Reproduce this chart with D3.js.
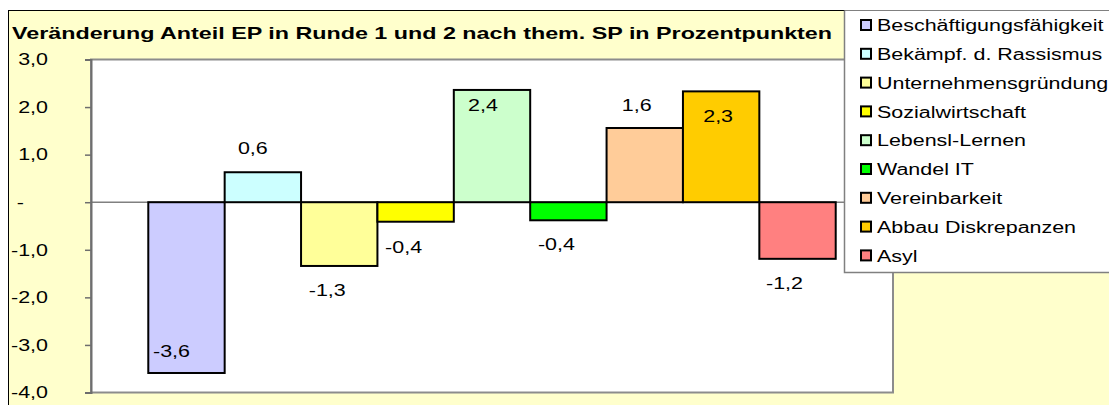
<!doctype html>
<html lang="de">
<head>
    <meta charset="utf-8">
    <title>Veränderung Anteil EP</title>
    <script src="https://cdn.jsdelivr.net/npm/d3@7/dist/d3.min.js"></script>
    <style>
        body { margin: 0; background: #fff; }
        svg text { font-family: "Liberation Sans", Arial, sans-serif; fill: #000; }
    </style>
</head>
<body>
<svg id="chart" width="1109" height="405"></svg>
<script>
    // Daten
    var categories = ["Beschäftigungsfähigkeit", "Bekämpf. d. Rassismus", "Unternehmensgründung",
        "Sozialwirtschaft", "Lebensl-Lernen", "Wandel IT", "Vereinbarkeit", "Abbau Diskrepanzen", "Asyl"];
    var values = [-3.59, 0.63, -1.34, -0.41, 2.36, -0.38, 1.56, 2.33, -1.19];
    var colors = ["#CCCCFF", "#CCFFFF", "#FFFF99", "#FFFF00", "#CCFFCC", "#00FF00", "#FFCC99", "#FFCC00", "#FF8080"];
    var yTicks = [3, 2, 1, 0, -1, -2, -3, -4];
    var title = "Veränderung Anteil EP in Runde 1 und 2 nach them. SP in Prozentpunkten";

    // Lage der Datenbeschriftungen (Excel hat sie von Hand verschoben): [dx, dy] zum Balkenende
    var labelOffsets = [[-15, -16], [-10, -18], [-12, 30], [-12, 31], [-9, 21], [-12, 30], [-8, -17], [-3, 31], [-13, 30]];

    // das Original ist in der Breite gestreckt, die Schrift also auch
    var stretch = function (sel, k) {
        sel.each(function () {
            var w = this.getComputedTextLength();
            d3.select(this).attr("textLength", w * k).attr("lengthAdjust", "spacingAndGlyphs");
        });
    };

    var svg = d3.select("#chart");
    var plot = { left: 91, right: 893, top: 59.5, bottom: 392.5 };

    // Diagrammfläche
    svg.append("rect")
        .attr("x", 8.5).attr("y", 10.5)
        .attr("width", 1120).attr("height", 420)
        .attr("fill", "#FFFFCC").attr("stroke", "#000").attr("stroke-width", 1);

    svg.append("text")
        .attr("x", 12).attr("y", 38.5)
        .style("font-weight", "bold").style("font-size", "17px")
        .text(title)
        .call(stretch, 1.37);

    var fmt = function (v) {
        if (v === 0) return "-";
        return d3.format(".1f")(v).replace(".", ",").replace("\u2212", "-");
    };

    var x = d3.scaleBand().domain(categories).range([plot.left, plot.right]).paddingInner(0).paddingOuter(0.75);
    var y = d3.scaleLinear().domain([-4, 3]).range([plot.bottom, plot.top]);

    // Zeichnungsfläche
    svg.append("rect")
        .attr("x", plot.left).attr("y", plot.top)
        .attr("width", plot.right - plot.left).attr("height", plot.bottom - plot.top)
        .attr("fill", "#fff").attr("stroke", "#8c8c8c").attr("stroke-width", 2);

    // Nulllinie
    svg.append("line")
        .attr("x1", plot.left).attr("x2", plot.right)
        .attr("y1", y(0)).attr("y2", y(0))
        .attr("stroke", "#808080").attr("stroke-width", 1.5);

    var yAxis = svg.append("g")
        .attr("transform", "translate(" + plot.left + ",0)")
        .call(d3.axisLeft(y).tickValues(yTicks).tickSize(6).tickPadding(37).tickFormat(fmt));
    yAxis.select(".domain").attr("stroke", "#6e6e6e").attr("stroke-width", 2);
    yAxis.selectAll(".tick line").attr("stroke", "#6e6e6e").attr("stroke-width", 1.5);
    yAxis.selectAll(".tick text")
        .style("font-size", "16.5px")
        .attr("dx", function (d) { return d === 0 ? -24 : 0; })
        .call(stretch, 1.3);

    // Balken
    svg.append("g").selectAll("rect")
        .data(values)
        .join("rect")
        .attr("x", function (d, i) { return x(categories[i]); })
        .attr("width", x.bandwidth())
        .attr("y", function (d) { return Math.min(y(d), y(0)); })
        .attr("height", function (d) { return Math.abs(y(d) - y(0)); })
        .attr("fill", function (d, i) { return colors[i]; })
        .attr("stroke", "#000").attr("stroke-width", 2);

    svg.append("g").selectAll("text")
        .data(values)
        .join("text")
        .attr("text-anchor", "middle")
        .style("font-size", "16.5px")
        .attr("x", function (d, i) { return x(categories[i]) + x.bandwidth() / 2 + labelOffsets[i][0]; })
        .attr("y", function (d, i) { return y(d) + labelOffsets[i][1]; })
        .text(fmt)
        .call(stretch, 1.3);

    // Legende
    var legend = svg.append("g");
    legend.append("rect")
        .attr("x", 844.5).attr("y", 10.5)
        .attr("width", 280).attr("height", 262)
        .attr("fill", "#fff");
    legend.append("path")
        .attr("d", "M844.5,10.5V272.5H1115")
        .attr("fill", "none").attr("stroke", "#808080").attr("stroke-width", 1.5);

    var items = legend.selectAll("g.item")
        .data(categories)
        .join("g")
        .attr("class", "item")
        .attr("transform", function (d, i) { return "translate(861," + (25.5 + i * 28.8) + ")"; });
    items.append("rect")
        .attr("x", 0).attr("y", -5.5).attr("width", 10).attr("height", 10)
        .attr("fill", function (d, i) { return colors[i]; })
        .attr("stroke", "#000").attr("stroke-width", 2);
    items.append("text")
        .attr("x", 16).attr("dy", "0.35em")
        .style("font-size", "16px")
        .text(function (d) { return d; })
        .call(stretch, 1.34);
</script>
</body>
</html>
